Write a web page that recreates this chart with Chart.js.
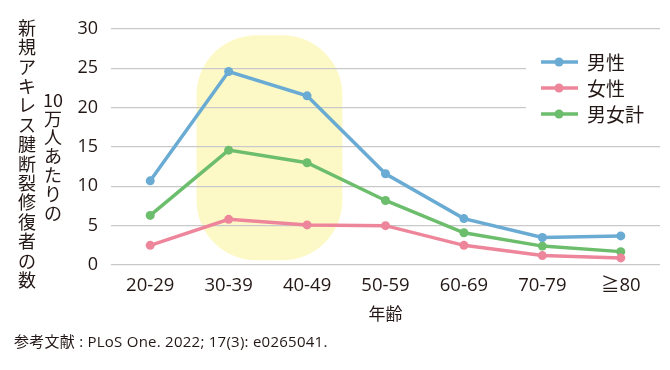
<!DOCTYPE html>
<html>
<head>
<meta charset="utf-8">
<script src="https://cdn.jsdelivr.net/npm/chart.js@4"></script>
<style>
  html, body { margin: 0; padding: 0; background: #fff; }
  #wrap { width: 670px; height: 370px; }
</style>
</head>
<body>
<div id="wrap"><canvas id="myChart" width="670" height="370"></canvas></div>
<script>
const ageGroups = ['20-29', '30-39', '40-49', '50-59', '60-69', '70-79', '≧80'];
const male = [10.7, 24.6, 21.5, 11.6, 5.9, 3.5, 3.7];
const female = [2.5, 5.8, 5.1, 5.0, 2.5, 1.2, 0.9];
const total = [6.3, 14.6, 13.0, 8.2, 4.1, 2.4, 1.7];
const yTicks = [0, 5, 10, 15, 20, 25, 30];

const seriesNames = ['男性', '女性', '男女計'];
const seriesColors = ['#6aabd4', '#ed869b', '#6cbd6c'];
const textColor = '#231815';
const jpFont = '"Noto Sans CJK JP", "Noto Sans", sans-serif';
const numFont = '"Open Sans", "Noto Sans CJK JP", sans-serif';

// yellow highlight behind 30-39 / 40-49, grid lines stay visible on top
const highlight = {
  id: 'highlight',
  beforeDraw(chart) {
    const { ctx, scales: { x, y } } = chart;
    const step = x.getPixelForValue(1) - x.getPixelForValue(0);
    const left = x.getPixelForValue(1) - step * 0.41;
    const right = x.getPixelForValue(2) + step * 0.45;
    const top = y.getPixelForValue(29.2);
    const bottom = y.getPixelForValue(0.6);
    ctx.save();
    ctx.fillStyle = '#fdf9c6';
    ctx.beginPath();
    ctx.roundRect(left, top, right - left, bottom - top, 60);
    ctx.fill();
    ctx.restore();
  }
};

// legend, titles and source text
const extras = {
  id: 'extras',
  afterDatasetsDraw(chart) {
    const { ctx, chartArea } = chart;
    ctx.save();

    // legend box
    ctx.fillStyle = '#fff';
    ctx.fillRect(526, 50, chartArea.right - 526 + 2, 78);
    seriesNames.forEach((name, i) => {
      const yy = 62 + i * 26;
      ctx.strokeStyle = seriesColors[i];
      ctx.lineWidth = 3.5;
      ctx.beginPath();
      ctx.moveTo(541, yy);
      ctx.lineTo(578, yy);
      ctx.stroke();
      ctx.fillStyle = seriesColors[i];
      ctx.beginPath();
      ctx.arc(559, yy, 4.5, 0, Math.PI * 2);
      ctx.fill();
      ctx.fillStyle = textColor;
      ctx.font = '19px ' + jpFont;
      ctx.textAlign = 'left';
      ctx.textBaseline = 'middle';
      ctx.fillText(name, 587, yy + 1);
    });

    // vertical y-axis title, two columns
    ctx.fillStyle = textColor;
    ctx.font = '18px ' + jpFont;
    ctx.textAlign = 'center';
    ctx.textBaseline = 'middle';
    const col1 = Array.from('新規アキレス腱断裂修復者の数');
    col1.forEach((c, i) => ctx.fillText(c, 27, 28 + i * 19.4));
    const col2 = ['10', '万', '人', 'あ', 'た', 'り', 'の'];
    col2.forEach((c, i) => ctx.fillText(c, 53, 100 + i * 18.8));

    // x-axis title
    ctx.font = '17px ' + jpFont;
    ctx.fillText('年齢', (chartArea.left + chartArea.right) / 2, 314);

    // source
    ctx.font = '15px ' + numFont;
    ctx.letterSpacing = '0.25px';
    ctx.textAlign = 'left';
    ctx.fillText('参考文献 : PLoS One. 2022; 17(3): e0265041.', 14, 343);
    ctx.restore();
  }
};

const ctx = document.getElementById('myChart').getContext('2d');

const makeSet = (label, data, color) => ({
  label,
  data,
  borderColor: color,
  backgroundColor: color,
  borderWidth: 3.5,
  pointRadius: 4.5,
  pointHoverRadius: 4.5,
  pointBorderWidth: 0,
  tension: 0
});

const myChart = new Chart(ctx, {
  type: 'line',
  data: {
    labels: ageGroups,
    datasets: [
      makeSet(seriesNames[0], male, seriesColors[0]),
      makeSet(seriesNames[1], female, seriesColors[1]),
      makeSet(seriesNames[2], total, seriesColors[2])
    ]
  },
  options: {
    responsive: false,
    animation: false,
    layout: { padding: { top: 29, right: 10, bottom: 65, left: 0 } },
    scales: {
      x: {
        offset: true,
        grid: { display: false, drawTicks: false },
        border: { display: false },
        ticks: {
          color: textColor,
          font: { family: numFont, size: 18.5 },
          padding: 10,
          maxRotation: 0,
          autoSkip: false
        },
        afterFit: (scale) => { scale.height = 40; }
      },
      y: {
        min: 0,
        max: 30,
        afterBuildTicks: (scale) => { scale.ticks = yTicks.map(v => ({ value: v })); },
        grid: { color: '#c9c9c9', lineWidth: 1.3, drawTicks: false },
        border: { display: false },
        ticks: {
          color: textColor,
          font: { family: numFont, size: 18 },
          padding: 13
        },
        afterFit: (scale) => { scale.width = 111; }
      }
    },
    plugins: {
      legend: { display: false },
      tooltip: { enabled: false }
    }
  },
  plugins: [highlight, extras]
});
</script>
</body>
</html>
